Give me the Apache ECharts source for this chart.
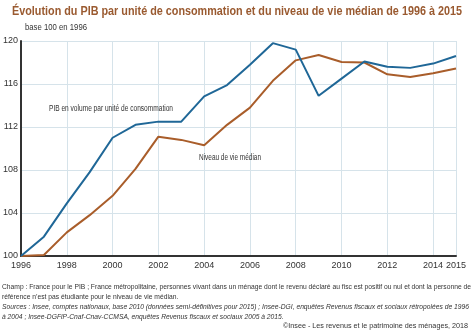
<!DOCTYPE html>
<html>
<head>
<meta charset="utf-8">
<script src="https://cdn.jsdelivr.net/npm/echarts@6/dist/echarts.min.js"></script>
<style>
  html, body { margin: 0; padding: 0; background: #fff; }
  #chart { width: 474px; height: 332px; }
</style>
</head>
<body>
<div id="chart"></div>
<script>
// Years 1996..2015 (base 100 in 1996)
const years = ['1996','1997','1998','1999','2000','2001','2002','2003','2004','2005',
               '2006','2007','2008','2009','2010','2011','2012','2013','2014','2015'];
// GDP in volume per consumption unit
const pibParUC = [100, 101.8, 104.9, 107.8, 111.0, 112.2, 112.5, 112.5, 114.85, 115.9,
                  117.8, 119.8, 119.2, 114.9, 116.5, 118.1, 117.6, 117.5, 117.9, 118.6];
// Median standard of living
const niveauVieMedian = [100, 100.1, 102.2, 103.8, 105.6, 108.1, 111.1, 110.8, 110.3, 112.2,
                         113.8, 116.3, 118.2, 118.7, 118.05, 118.0, 116.9, 116.65, 117.0, 117.45];
const yTicks = { min: 100, max: 120, step: 4 };

const SANS = '"Liberation Sans", Arial, sans-serif';
const shownYear = (i, v) => (Number(v) % 2 === 0) || v === '2015';

// Horizontal squeeze so a text line spans a given width (narrow-font look)
const measureCtx = document.createElement('canvas').getContext('2d');
function squeeze(text, font, width) {
  measureCtx.font = font;
  return width / measureCtx.measureText(text).width;
}
function line(text, font, x, y, width, opts) {
  opts = opts || {};
  return {
    type: 'text', x: x, y: y, z: 100,
    scaleX: opts.scaleX || squeeze(text, font, width),
    silent: true,
    style: {
      text: text, font: font, fill: opts.fill || '#333',
      align: opts.align || 'left', verticalAlign: 'middle'
    }
  };
}

const title = 'Évolution du PIB par unité de consommation et du niveau de vie médian de 1996 à 2015';
const notes = [
  'Champ : France pour le PIB ; France métropolitaine, personnes vivant dans un ménage dont le revenu déclaré au fisc est positif ou nul et dont la personne de',
  'référence n\u2019est pas étudiante pour le niveau de vie médian.',
  'Sources : Insee, comptes nationaux, base 2010 (données semi-définitives pour 2015) ; Insee-DGI, enquêtes Revenus fiscaux et sociaux rétropolées de 1996',
  'à 2004 ; Insee-DGFiP-Cnaf-Cnav-CCMSA, enquêtes Revenus fiscaux et sociaux 2005 à 2015.'
];
const credit = '©Insee - Les revenus et le patrimoine des ménages, 2018';

const fNote = '8px ' + SANS;
const fNoteIt = 'italic 8px ' + SANS;
const scaleNote = squeeze(notes[0], fNote, 469);
const scaleNoteIt = squeeze(notes[2], fNoteIt, 467);

const chart = echarts.init(document.getElementById('chart'), null, { renderer: 'canvas' });
chart.setOption({
  animation: false,
  backgroundColor: '#ffffff',
  grid: { left: 21, right: 18, top: 41, bottom: 76, containLabel: false },
  xAxis: {
    type: 'category',
    data: years,
    boundaryGap: false,
    axisLine: { show: true, lineStyle: { color: '#333', width: 2 } },
    axisTick: { show: false },
    axisLabel: { interval: shownYear, color: '#333', fontFamily: SANS, fontSize: 9, margin: 5 },
    splitLine: { show: true, interval: shownYear, lineStyle: { color: '#d6e3ea', width: 1 } }
  },
  yAxis: {
    type: 'value',
    min: yTicks.min, max: yTicks.max, interval: yTicks.step,
    axisLine: { show: true, lineStyle: { color: '#333', width: 2 } },
    axisTick: { show: false },
    axisLabel: { color: '#333', fontFamily: SANS, fontSize: 9, margin: 3 },
    splitLine: { show: true, lineStyle: { color: '#d6e3ea', width: 1 } }
  },
  series: [
    {
      name: 'PIB en volume par unité de consommation',
      type: 'line', data: pibParUC, symbol: 'none',
      lineStyle: { color: '#1f6797', width: 2 }, z: 3
    },
    {
      name: 'Niveau de vie médian',
      type: 'line', data: niveauVieMedian, symbol: 'none',
      lineStyle: { color: '#a95d2a', width: 2 }, z: 2
    }
  ],
  graphic: [
    line(title, 'bold 13.5px ' + SANS, 12, 11, 450, { fill: '#9a5a30' }),
    line('base 100 en 1996', '9px ' + SANS, 25, 28, 62),
    line('PIB en volume par unité de consommation', '8.5px ' + SANS, 49, 109, 124),
    line('Niveau de vie médian', '8.5px ' + SANS, 199, 158, 62),
    line(notes[0], fNote, 2, 287, 469),
    line(notes[1], fNote, 2, 296.5, 0, { scaleX: scaleNote }),
    line(notes[2], fNoteIt, 2, 307, 467),
    line(notes[3], fNoteIt, 2, 316.5, 0, { scaleX: scaleNoteIt }),
    line(credit, '8px ' + SANS, 468, 326, 185, { align: 'right' })
  ]
});
</script>
</body>
</html>
